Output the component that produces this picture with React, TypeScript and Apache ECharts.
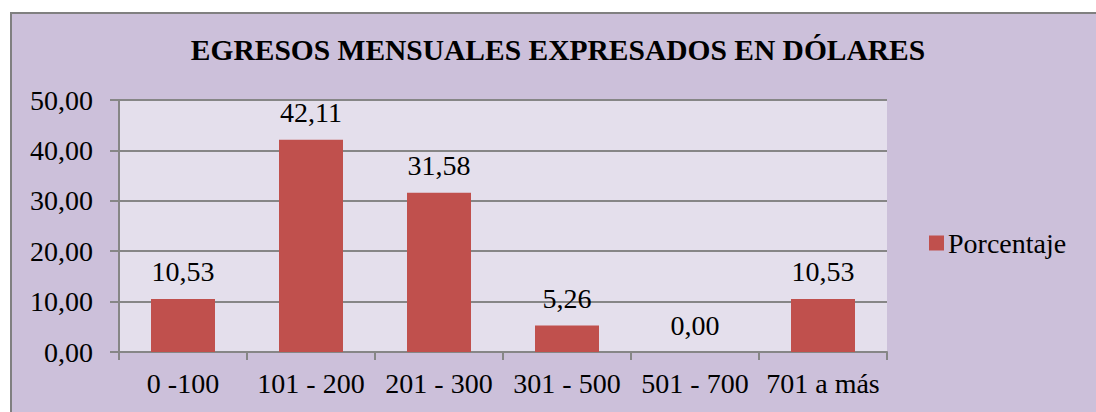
import React, { useEffect, useRef } from "react";
import * as echarts from "echarts";

const categories = ["0 -100", "101 - 200", "201 - 300", "301 - 500", "501 - 700", "701 a más"];
const porcentaje = [10.53, 42.11, 31.58, 5.26, 0.0, 10.53];
const seriesName = "Porcentaje";
const titleText = "EGRESOS MENSUALES EXPRESADOS EN DÓLARES";

const FONT = "'Liberation Serif', 'Times New Roman', serif";
const fmt = (v: number) => v.toFixed(2).replace(".", ",");

export default function App() {
  const ref = useRef<HTMLDivElement>(null);
  useEffect(() => {
    document.body.style.margin = "0";
    document.documentElement.style.overflow = "hidden";
    const chart = echarts.init(ref.current!, undefined, { renderer: "svg" });
    chart.setOption({
      animation: false,
      backgroundColor: "transparent",
      title: {
        text: titleText,
        left: 558,
        textAlign: "center",
        top: 35,
        padding: 0,
        textStyle: { fontFamily: FONT, fontSize: 29.5, fontWeight: "bold", color: "#000" },
      },
      legend: {
        data: [seriesName],
        left: 929,
        top: 229,
        padding: 0,
        itemWidth: 15,
        itemHeight: 15,
        itemGap: 6,
        icon: "rect",
        textStyle: { fontFamily: FONT, fontSize: 28, color: "#000", padding: [0, 0, 0, -1] },
      },
      grid: {
        left: 119,
        right: 1096 - 887,
        top: 100,
        bottom: 412 - 352,
        show: true,
        backgroundColor: "#E4DFEC",
        borderWidth: 0,
      },
      xAxis: {
        type: "category",
        data: categories,
        axisLine: { show: true, lineStyle: { color: "#868686", width: 2 } },
        axisTick: { show: true, length: 8, lineStyle: { color: "#868686", width: 2 } },
        axisLabel: { fontFamily: FONT, fontSize: 28, color: "#000", margin: 17, interval: 0 },
      },
      yAxis: {
        type: "value",
        min: 0,
        max: 50,
        interval: 10,
        axisLine: { show: true, lineStyle: { color: "#868686", width: 2 } },
        axisTick: { show: true, length: 9, lineStyle: { color: "#868686", width: 2 } },
        splitLine: { show: true, lineStyle: { color: "#868686", width: 2 } },
        axisLabel: {
          fontFamily: FONT,
          fontSize: 28,
          color: "#000",
          margin: 26,
          formatter: (v: number) => fmt(v),
        },
      },
      series: [
        {
          name: seriesName,
          type: "bar",
          data: porcentaje,
          barWidth: "50%",
          itemStyle: { color: "#C0504D" },
          label: {
            show: true,
            position: "top",
            distance: 13,
            fontFamily: FONT,
            fontSize: 28,
            color: "#000",
            formatter: (p: any) => fmt(p.value),
          },
        },
      ],
    });
    return () => chart.dispose();
  }, []);
  return (
    <div style={{ position: "relative", width: 1096, height: 412, background: "#fff", overflow: "hidden" }}>
      <div
        style={{
          position: "absolute",
          left: 10,
          top: 12,
          width: 1086,
          height: 400,
          background: "#CCC0DA",
          borderLeft: "2px solid #808080",
          borderTop: "2px solid #808080",
          boxSizing: "border-box",
        }}
      />
      <div ref={ref} style={{ position: "absolute", left: 0, top: 0, width: 1096, height: 412 }} />
    </div>
  );
}
